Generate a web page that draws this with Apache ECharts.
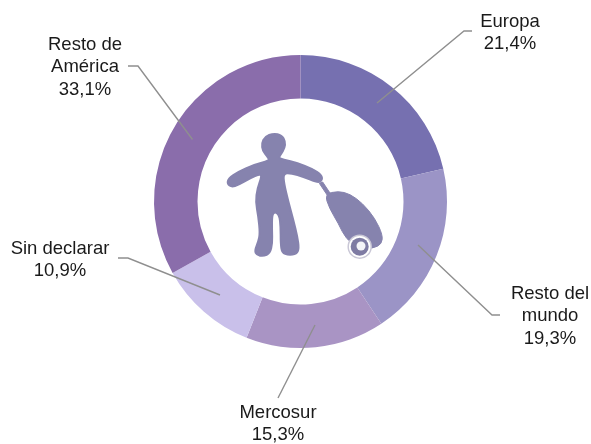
<!DOCTYPE html>
<html>
<head>
    <meta charset="utf-8" />
    <script src="https://cdn.jsdelivr.net/npm/echarts@6/dist/echarts.min.js"></script>
    <style>
        html, body { margin: 0; padding: 0; background: #fff; }
    </style>
</head>
<body>
    <div id="main" style="width: 591px;height:444px;"></div>

    <script>
        var categories = ['Europa', 'Resto del\nmundo', 'Mercosur', 'Sin declarar', 'Resto de\nAmérica']
        var shares = [21.4, 19.3, 15.3, 10.9, 33.1]
        var sliceColors = ['#7670b0', '#9b94c6', '#a994c4', '#c9c0ea', '#8a6dab']

        // label anchors and leader lines, same order as categories
        var labelSpots = [
            { x: 510, y: 33, line: [[472, 31], [464, 31], [377, 103]] },
            { x: 550, y: 316, line: [[500, 315], [492, 315], [418, 245]] },
            { x: 278, y: 424, line: [[278, 398], [315, 325]] },
            { x: 60, y: 260, line: [[118, 258], [128, 258], [220, 295]] },
            { x: 85, y: 67, line: [[128, 66], [138, 66], [192.5, 139.5]] }
        ]

        // traveller icon outline, traced at 3x then scaled down
        var personOutline = [[190, 40], [215, 45], [226, 65], [224, 85], [212, 103], [205, 116], [240, 122], [285, 137], [325, 157], [338, 172], [332, 186], [318, 186], [280, 170], [245, 160], [220, 160], [222, 190], [235, 245], [250, 300], [262, 350], [267, 385], [260, 402], [235, 405], [216, 398], [212, 370], [212, 320], [208, 285], [195, 275], [186, 285], [186, 330], [187, 370], [180, 400], [160, 409], [140, 405], [134, 392], [145, 365], [150, 340], [145, 290], [137, 245], [142, 205], [155, 170], [150, 162], [120, 175], [85, 195], [65, 201], [52, 192], [55, 175], [85, 155], [130, 135], [180, 122], [172, 110], [158, 92], [155, 70], [165, 50]]
        var caseOutline = [[344, 222], [385, 213], [420, 222], [458, 250], [495, 295], [518, 345], [515, 372], [490, 385], [450, 385], [408, 358], [385, 310], [358, 265]]
        var handlePath = 'M328 190L338 186L362 222L352 226Z'

        function smoothPath(pts) {
            var n = pts.length
            var mid = function (a, b) { return ((a[0] + b[0]) / 2) + ' ' + ((a[1] + b[1]) / 2) }
            var d = 'M' + mid(pts[n - 1], pts[0])
            for (var i = 0; i < n; i++) {
                d += 'Q' + pts[i][0] + ' ' + pts[i][1] + ' ' + mid(pts[i], pts[(i + 1) % n])
            }
            return d + 'Z'
        }

        echarts.graphic.registerShape('person', echarts.graphic.extendPath(smoothPath(personOutline), {}))
        echarts.graphic.registerShape('suitcase', echarts.graphic.extendPath(smoothPath(caseOutline) + handlePath, {}))

        var chart = echarts.init(document.getElementById('main'))

        // leader lines cross the ring, so they go in the graphic layer above the series
        var leaderLines = labelSpots.map(function (spot) {
            return {
                type: 'polyline',
                z: 10,
                shape: { points: spot.line },
                style: { fill: 'none', stroke: '#8f8f8f', lineWidth: 1.4 }
            }
        })

        var option = {
            animation: false,
            textStyle: { fontFamily: 'Liberation Sans' },
            series: [{
                type: 'pie',
                center: [300.5, 201.5],
                radius: [103, 146.5],
                startAngle: 90,
                clockwise: true,
                avoidLabelOverlap: false,
                data: categories.map(function (name, i) {
                    return { name: name, value: shares[i], itemStyle: { color: sliceColors[i] } }
                }),
                label: {
                    show: true,
                    color: '#1a1a1a',
                    fontSize: 18.5,
                    lineHeight: 22.5,
                    align: 'center',
                    formatter: function (p) {
                        return p.name + '\n' + p.value.toFixed(1).replace('.', ',') + '%'
                    }
                },
                labelLine: { show: false },
                labelLayout: function (params) {
                    var spot = labelSpots[params.dataIndex]
                    return {
                        x: spot.x,
                        y: spot.y,
                        align: 'center',
                        verticalAlign: 'middle'
                    }
                }
            }],
            graphic: leaderLines.concat([
                { type: 'person', z: 10, x: 210, y: 120, scaleX: 1 / 3, scaleY: 1 / 3, style: { fill: '#8683ae', stroke: '#8683ae', lineWidth: 6 } },
                { type: 'suitcase', z: 10, x: 210, y: 120, scaleX: 1 / 3, scaleY: 1 / 3, style: { fill: '#8683ae', stroke: '#8683ae', lineWidth: 3 } },
                { type: 'circle', z: 11, shape: { cx: 359.7, cy: 246.7, r: 11.5 }, style: { fill: '#fff', stroke: '#c9c7d6', lineWidth: 1.5 } },
                { type: 'circle', z: 11, shape: { cx: 359.7, cy: 246.7, r: 9 }, style: { fill: '#7e7ba3' } },
                { type: 'circle', z: 11, shape: { cx: 361, cy: 246, r: 4.5 }, style: { fill: '#f4f4f8' } }
            ])
        }

        chart.setOption(option)
    </script>
</body>
</html>
